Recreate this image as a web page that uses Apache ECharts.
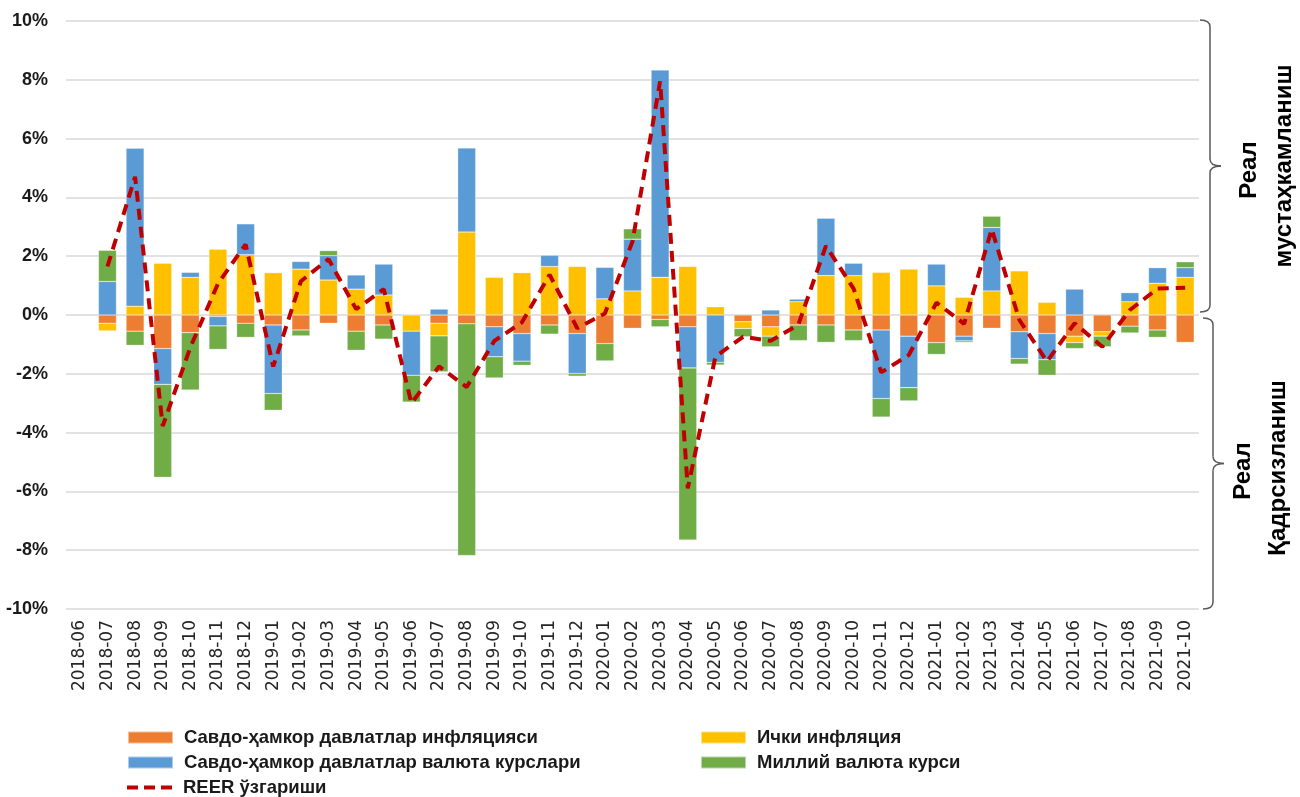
<!DOCTYPE html>
<html>
<head>
<meta charset="utf-8">
<script src="https://cdn.jsdelivr.net/npm/echarts@6/dist/echarts.min.js"></script>
<style>
html, body { margin: 0; padding: 0; background: #fff; }
#chart { width: 1300px; height: 797px; }
</style>
</head>
<body>
<div id="chart"></div>
<script>
var months = ['2018-06', '2018-07', '2018-08', '2018-09', '2018-10', '2018-11', '2018-12',
    '2019-01', '2019-02', '2019-03', '2019-04', '2019-05', '2019-06', '2019-07', '2019-08', '2019-09', '2019-10', '2019-11', '2019-12',
    '2020-01', '2020-02', '2020-03', '2020-04', '2020-05', '2020-06', '2020-07', '2020-08', '2020-09', '2020-10', '2020-11', '2020-12',
    '2021-01', '2021-02', '2021-03', '2021-04', '2021-05', '2021-06', '2021-07', '2021-08', '2021-09', '2021-10'];

// Савдо-ҳамкор давлатлар инфляцияси
var partnerInflation = [null, -0.28, -0.55, -1.14, -0.60, -0.05, -0.28,
    -0.34, -0.51, -0.28, -0.55, -0.34, 0, -0.28, -0.30, -0.40, -0.63, -0.34, -0.63,
    -0.97, -0.45, -0.15, -0.40, 0, -0.23, -0.40, -0.34, -0.34, -0.51, -0.51, -0.72,
    -0.94, -0.72, -0.45, -0.57, -0.63, -0.72, -0.57, -0.38, -0.51, -0.93];
// Ички инфляция
var domesticInflation = [null, -0.26, 0.30, 1.76, 1.28, 2.24, 2.05,
    1.44, 1.56, 1.19, 0.88, 0.68, -0.55, -0.43, 2.82, 1.28, 1.44, 1.65, 1.65,
    0.55, 0.82, 1.28, 1.65, 0.28, -0.23, -0.32, 0.45, 1.34, 1.34, 1.45, 1.56,
    0.99, 0.60, 0.82, 1.50, 0.43, -0.22, -0.15, 0.45, 1.08, 1.28];
// Савдо-ҳамкор давлатлар валюта курслари
var partnerFx = [null, 1.14, 5.37, -1.22, 0.17, -0.32, 1.05,
    -2.33, 0.26, 0.83, 0.48, 1.05, -1.50, 0.20, 2.86, -1.02, -0.94, 0.38, -1.36,
    1.07, 1.76, 7.05, -1.40, -1.61, 0, 0.17, 0.09, 1.95, 0.42, -2.33, -1.75,
    0.74, -0.16, 2.16, -0.91, -0.89, 0.88, 0, 0.31, 0.53, 0.33];
// Миллий валюта курси
var nationalFx = [null, 1.06, -0.48, -3.16, -1.95, -0.80, -0.48,
    -0.57, -0.20, 0.17, -0.65, -0.48, -0.91, -1.22, -7.88, -0.72, -0.14, -0.31, -0.09,
    -0.59, 0.35, -0.25, -5.85, -0.09, -0.28, -0.36, -0.53, -0.59, -0.36, -0.63, -0.45,
    -0.40, -0.05, 0.38, -0.19, -0.53, -0.20, -0.36, -0.23, -0.25, 0.20];
// REER ўзгариши
var reerChange = [null, 1.65, 4.70, -3.78, -1.10, 1.07, 2.40,
    -1.75, 1.15, 1.90, 0.20, 0.88, -3.00, -1.75, -2.45, -0.88, -0.25, 1.37, -0.45,
    0.05, 2.50, 7.95, -5.90, -1.42, -0.74, -0.88, -0.33, 2.35, 0.90, -1.95, -1.36,
    0.42, -0.30, 2.92, -0.17, -1.58, -0.28, -1.08, 0.17, 0.90, 0.93];

var seriesNames = ['Савдо-ҳамкор давлатлар инфляцияси', 'Ички инфляция',
    'Савдо-ҳамкор давлатлар валюта курслари', 'Миллий валюта курси', 'REER ўзгариши'];
var colors = ['#ED7D31', '#FFC000', '#5B9BD5', '#70AD47', '#C00000'];

var legendText = {
    fontFamily: 'Liberation Sans',
    fontWeight: 'bold',
    fontSize: 18.5,
    color: '#1a1a1a',
    padding: [0, 0, 0, 6]
};

function legendAt(name, left, top, icon) {
    return {
        data: [{name: name, icon: icon}],
        left: left,
        top: top,
        padding: 0,
        itemWidth: 45,
        itemHeight: 12,
        textStyle: legendText,
        selectedMode: false
    };
}

function barSeries(i, data) {
    return {
        name: seriesNames[i],
        type: 'bar',
        stack: 'total',
        barWidth: 18,
        itemStyle: {color: colors[i], borderColor: 'rgba(255,255,255,0.5)', borderWidth: 0.5},
        data: data
    };
}

var dashIcon = 'path://M0,0 L11,0 L11,4 L0,4 Z M17,0 L28,0 L28,4 L17,4 Z M34,0 L45,0 L45,4 L34,4 Z';

var chart = echarts.init(document.getElementById('chart'));
var option = {
    backgroundColor: '#ffffff',
    animation: false,
    grid: {left: 66, right: 101, top: 21, bottom: 188},
    legend: [
        legendAt(seriesNames[0], 127, 728, 'rect'),
        legendAt(seriesNames[1], 700, 728, 'rect'),
        legendAt(seriesNames[2], 127, 753, 'rect'),
        legendAt(seriesNames[3], 700, 753, 'rect'),
        legendAt(seriesNames[4], 127, 778, dashIcon)
    ],
    xAxis: {
        type: 'category',
        data: months,
        axisLine: {show: false},
        axisTick: {show: false},
        axisLabel: {
            interval: 0,
            rotate: 90,
            margin: 11,
            fontFamily: 'DejaVu Sans',
            fontSize: 17,
            color: '#262626'
        }
    },
    yAxis: {
        type: 'value',
        min: -10,
        max: 10,
        interval: 2,
        axisLine: {show: false},
        axisTick: {show: false},
        splitLine: {lineStyle: {color: '#d9d9d9', width: 1.5}},
        axisLabel: {
            formatter: '{value}%',
            margin: 18,
            fontFamily: 'Liberation Sans',
            fontWeight: 'bold',
            fontSize: 18,
            color: '#1a1a1a'
        }
    },
    series: [
        barSeries(0, partnerInflation),
        barSeries(1, domesticInflation),
        barSeries(2, partnerFx),
        barSeries(3, nationalFx),
        {
            name: seriesNames[4],
            type: 'line',
            symbol: 'none',
            z: 5,
            lineStyle: {color: colors[4], width: 4, type: [11, 7]},
            itemStyle: {color: colors[4]},
            data: reerChange
        }
    ]
};
chart.setOption(option);

// фигурали қавслар ва изоҳлар
var yTop = chart.convertToPixel({yAxisIndex: 0}, 10);
var yZero = chart.convertToPixel({yAxisIndex: 0}, 0);
var yBottom = chart.convertToPixel({yAxisIndex: 0}, -10);
var braceStyle = {stroke: '#595959', lineWidth: 1.5, fill: null};

function brace(x, y1, y2) {
    var ym = (y1 + y2) / 2;
    var r = 7;
    return [
        {type: 'bezierCurve', shape: {x1: x - 10, y1: y1, cpx1: x, cpy1: y1, x2: x, y2: y1 + r}, style: braceStyle},
        {type: 'line', shape: {x1: x, y1: y1 + r, x2: x, y2: ym - r}, style: braceStyle},
        {type: 'bezierCurve', shape: {x1: x, y1: ym - r, cpx1: x, cpy1: ym, x2: x + 11, y2: ym}, style: braceStyle},
        {type: 'bezierCurve', shape: {x1: x + 11, y1: ym, cpx1: x, cpy1: ym, x2: x, y2: ym + r}, style: braceStyle},
        {type: 'line', shape: {x1: x, y1: ym + r, x2: x, y2: y2 - r}, style: braceStyle},
        {type: 'bezierCurve', shape: {x1: x, y1: y2 - r, cpx1: x, cpy1: y2, x2: x - 10, y2: y2}, style: braceStyle}
    ];
}

function caption(text, x, y) {
    return {
        type: 'text',
        x: x,
        y: y,
        rotation: Math.PI / 2,
        style: {
            text: text,
            fill: '#000',
            font: 'bold 24px "Liberation Sans"',
            textAlign: 'center',
            textVerticalAlign: 'middle'
        }
    };
}

var upperMid = (yTop + yZero) / 2;
var lowerMid = (yZero + yBottom) / 2;
var graphics = brace(1210, yTop - 1, yZero - 3).concat(brace(1213, yZero + 3, yBottom));
graphics.push(caption('Реал', 1249, upperMid + 2));
graphics.push(caption('мустаҳкамланиш', 1284, upperMid - 2));
graphics.push(caption('Реал', 1243, lowerMid + 9));
graphics.push(caption('Қадрсизланиш', 1278, lowerMid + 6));
chart.setOption({graphic: graphics});
</script>
</body>
</html>
